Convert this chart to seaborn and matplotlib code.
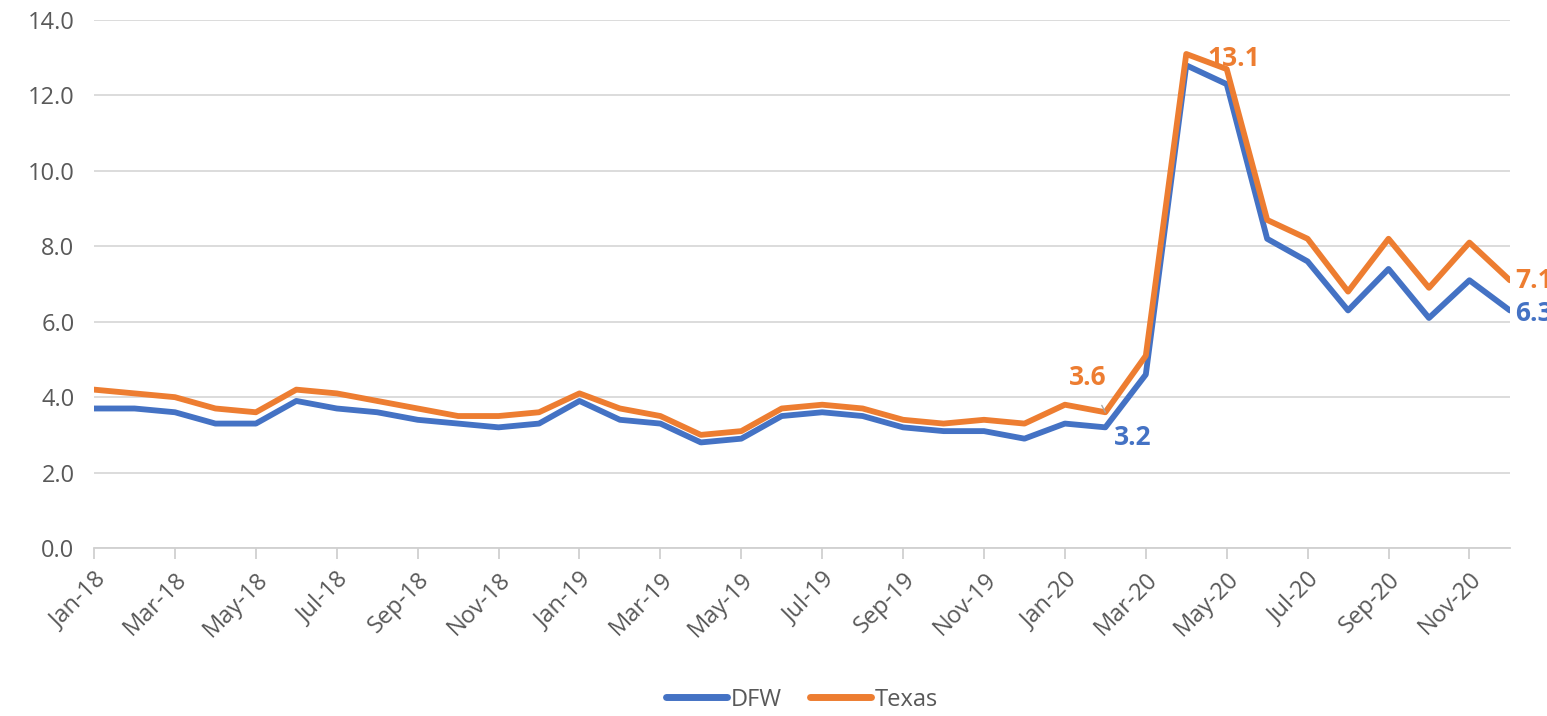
import pandas as pd
import matplotlib
matplotlib.use("Agg")
import matplotlib.pyplot as plt
import seaborn as sns

months = pd.date_range("2018-01-01", "2020-12-01", freq="MS").strftime("%b-%y").tolist()

dfw = [3.7, 3.7, 3.6, 3.3, 3.3, 3.9, 3.7, 3.6, 3.4, 3.3, 3.2, 3.3,
       3.9, 3.4, 3.3, 2.8, 2.9, 3.5, 3.6, 3.5, 3.2, 3.1, 3.1, 2.9,
       3.3, 3.2, 4.6, 12.8, 12.3, 8.2, 7.6, 6.3, 7.4, 6.1, 7.1, 6.3]
texas = [4.2, 4.1, 4.0, 3.7, 3.6, 4.2, 4.1, 3.9, 3.7, 3.5, 3.5, 3.6,
         4.1, 3.7, 3.5, 3.0, 3.1, 3.7, 3.8, 3.7, 3.4, 3.3, 3.4, 3.3,
         3.8, 3.6, 5.1, 13.1, 12.7, 8.7, 8.2, 6.8, 8.2, 6.9, 8.1, 7.1]

series_names = ["DFW", "Texas"]
colors = {"DFW": "#4472C4", "Texas": "#ED7D31"}

df = pd.DataFrame({
    "idx": list(range(len(months))) * 2,
    "month": months * 2,
    "rate": dfw + texas,
    "series": ["DFW"] * len(dfw) + ["Texas"] * len(texas),
})

sns.set_style("white")
plt.rcParams["font.family"] = ["Open Sans", "DejaVu Sans"]

fig = plt.figure(figsize=(15.47, 7.16), dpi=100)
ax = fig.add_axes([0.0608, 0.2346, 0.9152, 0.7374])

sns.lineplot(data=df, x="idx", y="rate", hue="series", hue_order=series_names,
             palette=colors, linewidth=4.2, ax=ax, legend=True)

ax.set_xlim(0, len(months) - 1)
ax.set_ylim(0, 14)
ax.set_yticks([0, 2, 4, 6, 8, 10, 12, 14])
ax.set_yticklabels([f"{v:.1f}" for v in ax.get_yticks()])
ax.set_xticks(range(0, len(months), 2))
ax.set_xticklabels(months[::2], rotation=45, ha="right", rotation_mode="anchor")
ax.set_xlabel("")
ax.set_ylabel("")

ax.grid(axis="y", color="#d9d9d9", linewidth=1.3)
ax.set_axisbelow(True)
for s in ["top", "right", "left"]:
    ax.spines[s].set_visible(False)
ax.spines["bottom"].set_color("#d0d0d0")
ax.spines["bottom"].set_linewidth(1.3)
ax.tick_params(axis="x", which="both", bottom=True, length=8, width=1.3,
               color="#d0d0d0", labelcolor="#595959", labelsize=17, pad=6)
ax.tick_params(axis="y", length=0, labelcolor="#595959", labelsize=17, pad=14)

# data labels
lab_kw = dict(fontsize=19, fontweight="bold", textcoords="offset points")
ax.annotate("13.1", (27, texas[27]), xytext=(15, -3), color=colors["Texas"],
            va="center", ha="left", **lab_kw)
ax.annotate("3.6", (25, texas[25]), xytext=(-13, 25), color=colors["Texas"],
            va="center", ha="center",
            arrowprops=dict(arrowstyle="-", color="#a6a6a6", lw=1,
                            shrinkA=9, shrinkB=0), **lab_kw)
ax.annotate("3.2", (25, dfw[25]), xytext=(6, -7), color=colors["DFW"],
            va="center", ha="left", **lab_kw)
ax.annotate("7.1", (35, texas[35]), xytext=(4, 0), color=colors["Texas"],
            va="center", ha="left", annotation_clip=False, **lab_kw)
ax.annotate("6.3", (35, dfw[35]), xytext=(4, -2), color=colors["DFW"],
            va="center", ha="left", annotation_clip=False, **lab_kw)

leg = ax.legend(loc="lower center", bbox_to_anchor=(0.5, -0.35), ncol=2,
                frameon=False, fontsize=17, handlelength=2.6, columnspacing=1.2,
                handletextpad=0.15)
for line in leg.get_lines():
    line.set_linewidth(5)
    line.set_solid_capstyle("round")
for t in leg.get_texts():
    t.set_color("#595959")

fig.savefig("out.png", dpi=100)
